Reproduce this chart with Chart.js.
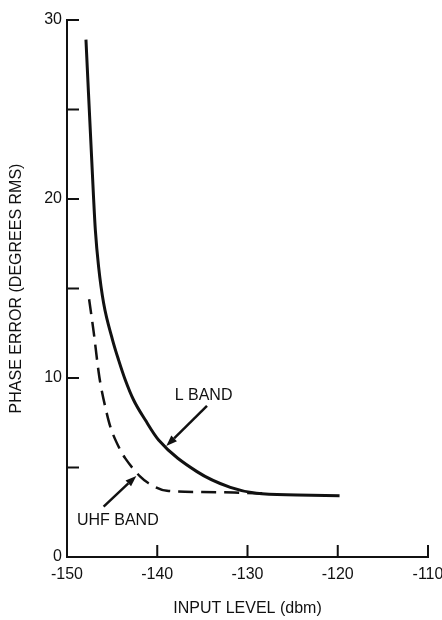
<!DOCTYPE html>
<html>
<head>
<meta charset="utf-8">
<script src="https://cdn.jsdelivr.net/npm/chart.js"></script>
<style>
  body { margin: 0; background: #fff; }
  #wrap { width: 442px; height: 620px; }
</style>
</head>
<body>
<div id="wrap"><canvas id="phase-chart"></canvas></div>
<script>
  // L band curve (solid)
  let lBandX = [-147.9, -147.05, -146.86, -146.5, -145.94, -144.95, -144.28, -143.54, -142.62, -141.32, -139.85, -135.6, -131.9, -129.0, -124.5, -119.8];
  let lBandY = [28.9, 20.0, 18.27, 16.22, 14.17, 12.12, 11.0, 9.89, 8.77, 7.65, 6.54, 4.77, 3.89, 3.56, 3.47, 3.42];

  // UHF band curve (dashed)
  let uhfBandX = [-147.55, -147.05, -146.5, -146.3, -145.68, -145.2, -144.1, -143.54, -141.88, -140.96, -138.92, -135.0, -131.5, -128.0];
  let uhfBandY = [14.4, 12.59, 10.35, 9.7, 8.21, 7.28, 5.98, 5.51, 4.49, 4.12, 3.7, 3.63, 3.6, 3.55];

  // axis ticks
  let xTicks = [-150, -140, -130, -120, -110];
  let yTicks = [0, 5, 10, 15, 20, 25, 30];
  let yLabelled = [0, 10, 20, 30];

  // curve labels + arrows (data units)
  let labelText = ["L BAND", "UHF BAND"];
  let labelX = [-134.87, -144.37];
  let labelY = [8.99, 2.02];
  let arrowFromX = [-134.49, -145.94];
  let arrowFromY = [8.44, 2.81];
  let arrowToX = [-139.0, -142.32];
  let arrowToY = [6.2, 4.53];

  let ink = "#111";
  let font = "'Liberation Sans', Arial, sans-serif";

  function toPoints(xs, ys) {
    return xs.map(function (x, i) { return { x: x, y: ys[i] }; });
  }

  // inside ticks, arrows and the two curve labels
  let extras = {
    id: "extras",
    afterDraw: function (chart) {
      let ctx = chart.ctx;
      let xs = chart.scales.x;
      let ys = chart.scales.y;
      let area = chart.chartArea;
      ctx.save();
      ctx.strokeStyle = ink;
      ctx.lineWidth = 2;
      ctx.beginPath();
      xTicks.forEach(function (v) {
        if (v === xs.min) return;
        let px = xs.getPixelForValue(v);
        ctx.moveTo(px, area.bottom);
        ctx.lineTo(px, area.bottom - 12);
      });
      yTicks.forEach(function (v) {
        if (v === ys.min) return;
        let py = ys.getPixelForValue(v);
        ctx.moveTo(area.left, py);
        ctx.lineTo(area.left + 12, py);
      });
      ctx.stroke();

      // arrows
      ctx.fillStyle = ink;
      ctx.lineWidth = 2.5;
      for (let i = 0; i < labelText.length; i++) {
        let x1 = xs.getPixelForValue(arrowFromX[i]);
        let y1 = ys.getPixelForValue(arrowFromY[i]);
        let x2 = xs.getPixelForValue(arrowToX[i]);
        let y2 = ys.getPixelForValue(arrowToY[i]);
        let ang = Math.atan2(y2 - y1, x2 - x1);
        let headLen = 11;
        let bx = x2 - headLen * Math.cos(ang);
        let by = y2 - headLen * Math.sin(ang);
        ctx.beginPath();
        ctx.moveTo(x1, y1);
        ctx.lineTo(bx, by);
        ctx.stroke();
        ctx.beginPath();
        ctx.moveTo(x2, y2);
        ctx.lineTo(bx + 4 * Math.sin(ang), by - 4 * Math.cos(ang));
        ctx.lineTo(bx - 4 * Math.sin(ang), by + 4 * Math.cos(ang));
        ctx.closePath();
        ctx.fill();
      }

      // labels
      ctx.font = "16px " + font;
      ctx.textAlign = "center";
      ctx.textBaseline = "middle";
      for (let i = 0; i < labelText.length; i++) {
        ctx.fillText(labelText[i], xs.getPixelForValue(labelX[i]), ys.getPixelForValue(labelY[i]));
      }
      ctx.restore();
    },
  };

  let canvas = document.getElementById("phase-chart");
  let phaseChart = new Chart(canvas.getContext("2d"), {
    type: "line",
    data: {
      datasets: [
        {
          label: "L BAND",
          data: toPoints(lBandX, lBandY),
          borderColor: ink,
          borderWidth: 3,
          pointRadius: 0,
          fill: false,
          cubicInterpolationMode: "monotone",
        },
        {
          label: "UHF BAND",
          data: toPoints(uhfBandX, uhfBandY),
          borderColor: ink,
          borderWidth: 2.5,
          borderDash: [15, 8],
          pointRadius: 0,
          fill: false,
          cubicInterpolationMode: "monotone",
        },
      ],
    },
    options: {
      responsive: true,
      maintainAspectRatio: false,
      animation: false,
      layout: { padding: { top: 20, right: 14, bottom: 0, left: 0 } },
      plugins: {
        legend: { display: false },
        tooltip: { enabled: false },
      },
      scales: {
        x: {
          type: "linear",
          min: -150,
          max: -110,
          afterBuildTicks: function (scale) {
            scale.ticks = xTicks.map(function (v) { return { value: v }; });
          },
          afterFit: function (scale) {
            scale.height = 63;
            // let the -110 label run to the edge like the original
            scale.paddingRight = 0;
            scale.paddingLeft = 0;
          },
          grid: { display: false, drawTicks: false },
          border: { display: true, color: ink, width: 2 },
          ticks: {
            color: ink,
            padding: 8,
            maxRotation: 0,
            font: { family: font, size: 16 },
          },
          title: {
            display: true,
            text: "INPUT LEVEL (dbm)",
            color: ink,
            font: { family: font, size: 16 },
            padding: { top: 4, bottom: 2 },
          },
        },
        y: {
          type: "linear",
          min: 0,
          max: 30,
          afterBuildTicks: function (scale) {
            scale.ticks = yTicks.map(function (v) { return { value: v }; });
          },
          afterFit: function (scale) { scale.width = 67; },
          grid: { display: false, drawTicks: false },
          border: { display: true, color: ink, width: 2 },
          ticks: {
            color: ink,
            padding: 5,
            font: { family: font, size: 16 },
            callback: function (v) {
              return yLabelled.indexOf(v) >= 0 ? String(v) : "";
            },
          },
          title: {
            display: true,
            text: "PHASE ERROR (DEGREES RMS)",
            color: ink,
            font: { family: font, size: 16 },
            padding: { top: 7, bottom: 4 },
          },
        },
      },
    },
    plugins: [extras],
  });
</script>
</body>
</html>
